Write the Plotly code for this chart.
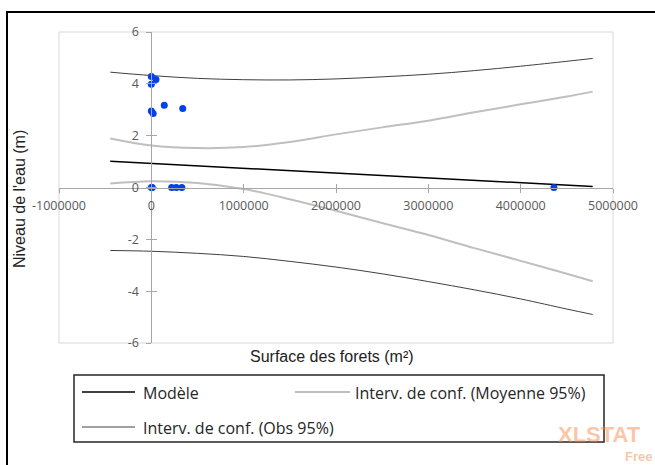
import plotly.graph_objects as go

# ---------------- data ----------------
x_curve = [-445000, 0, 500000, 1000000, 1500000, 2000000, 2500000,
           3000000, 3500000, 4000000, 4500000, 4780000]
model = [1.01, 0.93, 0.84, 0.75, 0.65, 0.56, 0.47, 0.37, 0.28, 0.19, 0.09, 0.04]
mean_upper = [1.89, 1.62, 1.52, 1.56, 1.76, 2.05, 2.32, 2.58, 2.90, 3.21, 3.51, 3.70]
mean_lower = [0.15, 0.24, 0.17, -0.06, -0.45, -0.90, -1.37, -1.83, -2.34, -2.83, -3.33, -3.62]
obs_upper = [4.45, 4.32, 4.21, 4.16, 4.15, 4.19, 4.27, 4.37, 4.51, 4.68, 4.87, 4.98]
obs_lower = [-2.43, -2.46, -2.54, -2.66, -2.85, -3.07, -3.33, -3.63, -3.95, -4.30, -4.69, -4.90]

obs_x = [0, 50000, 0, 0, 20000, 140000, 340000, 0, 10000, 220000, 270000, 330000, 4360000]
obs_y = [4.28, 4.17, 3.98, 2.95, 2.86, 3.17, 3.05, 0, 0, 0, 0, 0, 0]

x_ticks = [-1000000, 0, 1000000, 2000000, 3000000, 4000000, 5000000]
x_ticktext = ["-1000000", "0", "1000000", "2000000", "3000000", "4000000", "5000000"]
y_ticks = [-6, -4, -2, 0, 2, 4, 6]
y_ticktext = ["-6", "-4", "-2", "0", "2", "4", "6"]

legend_labels = ["Modèle", "Interv. de conf. (Moyenne 95%)", "Interv. de conf. (Obs 95%)"]
x_title = "Surface des forets (m²)"
y_title = "Niveau de l'eau (m)"

# ---------------- layout geometry (pixels) ----------------
W, H = 655, 465
L, R, T, B = 59, 42, 32, 122
PW, PH = W - L - R, H - T - B


def px(x):
    return (x - L) / PW


def py(y):
    return (H - B - y) / PH


MODEL_C = "#000000"
MEAN_C = "#BFBFBF"
OBS_C = "#404040"
TICK_C = "#595959"
AXIS_C = "#A6A6A6"

fig = go.Figure()

fig.add_trace(go.Scatter(x=x_curve, y=obs_upper, mode="lines", line=dict(color=OBS_C, width=1),
                         line_shape="spline", hoverinfo="skip"))
fig.add_trace(go.Scatter(x=x_curve, y=obs_lower, mode="lines", line=dict(color=OBS_C, width=1),
                         line_shape="spline", hoverinfo="skip"))
fig.add_trace(go.Scatter(x=x_curve, y=mean_upper, mode="lines", line=dict(color=MEAN_C, width=2),
                         line_shape="spline", hoverinfo="skip"))
fig.add_trace(go.Scatter(x=x_curve, y=mean_lower, mode="lines", line=dict(color=MEAN_C, width=2),
                         line_shape="spline", hoverinfo="skip"))
fig.add_trace(go.Scatter(x=x_curve, y=model, mode="lines", line=dict(color=MODEL_C, width=1.5),
                         hoverinfo="skip"))
fig.add_trace(go.Scatter(x=obs_x, y=obs_y, mode="markers",
                         marker=dict(color="#0040F0", size=7, line=dict(width=0))))
# dummy trace for the crossing (inner) tick marks
fig.add_trace(go.Scatter(x=[None], y=[None], xaxis="x2", yaxis="y2", hoverinfo="skip"))

tick_font = dict(family="Open Sans", size=12.5, color=TICK_C)

fig.update_layout(
    width=W, height=H,
    margin=dict(l=L, r=R, t=T, b=B, pad=0),
    paper_bgcolor="white", plot_bgcolor="white",
    showlegend=False,
    xaxis=dict(range=[-1000000, 5000000], tickvals=x_ticks, ticktext=x_ticktext,
               showgrid=False, zeroline=False, showline=True, linecolor=AXIS_C, linewidth=1,
               ticks="outside", ticklen=4, tickcolor=AXIS_C, tickwidth=1,
               anchor="free", position=0.5, tickfont=tick_font, ticklabelstandoff=2),
    yaxis=dict(range=[-6, 6], tickvals=y_ticks, ticktext=y_ticktext,
               showgrid=False, zeroline=False, showline=True, linecolor=AXIS_C, linewidth=1,
               ticks="outside", ticklen=5, tickcolor=AXIS_C, tickwidth=1,
               anchor="free", position=1 / 6, tickfont=tick_font, ticklabelstandoff=5),
    xaxis2=dict(range=[-1000000, 5000000], tickvals=x_ticks, overlaying="x",
                showgrid=False, zeroline=False, showline=False, showticklabels=False,
                ticks="inside", ticklen=4, tickcolor=AXIS_C, tickwidth=1,
                anchor="free", position=0.5),
    yaxis2=dict(range=[-6, 6], tickvals=y_ticks, overlaying="y",
                showgrid=False, zeroline=False, showline=False, showticklabels=False,
                ticks="inside", ticklen=5, tickcolor=AXIS_C, tickwidth=1,
                anchor="free", position=1 / 6),
)

shapes = []
# plot area border
shapes.append(dict(type="rect", xref="paper", yref="paper", x0=0, x1=1, y0=0, y1=1,
                   line=dict(color="#D9D9D9", width=1), layer="below"))
# outer chart border (only left and top visible in the crop)
shapes.append(dict(type="rect", xref="paper", yref="paper", x0=px(7), x1=px(720),
                   y0=py(520), y1=py(12), line=dict(color="#000000", width=2)))

annotations = []
# watermark
annotations.append(dict(text="<b>XLSTAT</b>", xref="paper", yref="paper", x=px(556), y=py(434),
                        xanchor="left", yanchor="middle", showarrow=False,
                        font=dict(family="Liberation Sans", size=22, color="rgba(247,140,80,0.5)")))
annotations.append(dict(text="<b>Free</b>", xref="paper", yref="paper", x=px(654), y=py(456.5),
                        xanchor="right", yanchor="middle", showarrow=False,
                        font=dict(family="Liberation Sans", size=13, color="rgba(247,140,80,0.5)")))

# legend box
shapes.append(dict(type="rect", xref="paper", yref="paper", x0=px(74), x1=px(604),
                   y0=py(442), y1=py(375), line=dict(color="#262626", width=1.5),
                   fillcolor="rgba(0,0,0,0)"))
legend_items = [
    (82, 135, 392, MODEL_C, 1.5, 141, legend_labels[0]),
    (295, 350, 392, MEAN_C, 2, 353, legend_labels[1]),
    (82, 135, 427, OBS_C, 1, 141, legend_labels[2]),
]
for x0, x1, yy, col, lw, tx, label in legend_items:
    shapes.append(dict(type="line", xref="paper", yref="paper", x0=px(x0), x1=px(x1),
                       y0=py(yy), y1=py(yy), line=dict(color=col, width=lw)))
    annotations.append(dict(text=label, xref="paper", yref="paper", x=px(tx), y=py(yy + 1),
                            xanchor="left", yanchor="middle", showarrow=False,
                            font=dict(family="Open Sans", size=16, color="#262626")))

# axis titles
annotations.append(dict(text=x_title, xref="paper", yref="paper", x=px(332), y=py(356.5),
                        xanchor="center", yanchor="middle", showarrow=False,
                        font=dict(family="Liberation Sans", size=16, color="#222222")))
annotations.append(dict(text=y_title, xref="paper", yref="paper", x=px(19), y=py(199),
                        xanchor="center", yanchor="middle", showarrow=False, textangle=-90,
                        font=dict(family="Liberation Sans", size=16, color="#222222")))

fig.update_layout(shapes=shapes, annotations=annotations)
fig.write_html("out.html")
